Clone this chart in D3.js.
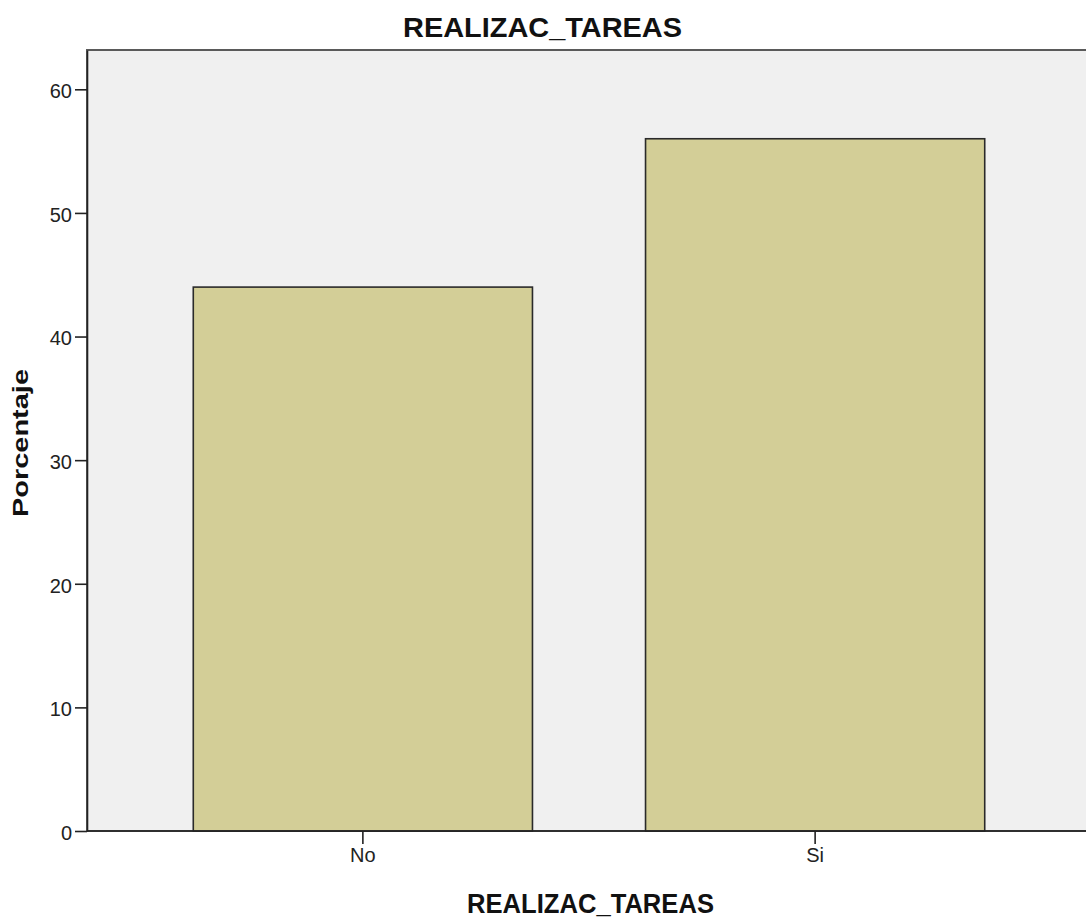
<!DOCTYPE html>
<html>
<head>
<meta charset="utf-8">
<script src="https://cdn.jsdelivr.net/npm/d3@7"></script>
<style>
  html, body { margin: 0; padding: 0; background: #ffffff; }
  svg { display: block; font-family: "Liberation Sans", Arial, sans-serif; }
</style>
</head>
<body>
<svg id="chart" width="1086" height="918"></svg>
<script>
// ---- data ----
const categories = ["No", "Si"];
const percentages = [44, 56];
const yTicks = [0, 10, 20, 30, 40, 50, 60];
const chartTitle = "REALIZAC_TAREAS";
const xTitle = "REALIZAC_TAREAS";
const yTitle = "Porcentaje";

const svg = d3.select("#chart");
const W = 1086, H = 918;
const plot = { left: 87, right: 1087, top: 50, bottom: 831 };

const y = d3.scaleLinear().domain([0, 63.18]).range([plot.bottom, plot.top]);
const x = d3.scaleBand().domain(categories).range([87, 1091])
  .paddingInner(0.25).paddingOuter(0.235).align(0.5);

// plot background
svg.append("rect")
  .attr("x", plot.left).attr("y", plot.top)
  .attr("width", plot.right - plot.left).attr("height", plot.bottom - plot.top)
  .attr("fill", "#f0f0f0")
  .attr("stroke", "#5a5a5a").attr("stroke-width", 2);

// bars
svg.selectAll("rect.bar").data(categories).enter().append("rect")
  .attr("class", "bar")
  .attr("x", d => x(d))
  .attr("y", (d, i) => y(percentages[i]))
  .attr("width", x.bandwidth())
  .attr("height", (d, i) => y(0) - y(percentages[i]))
  .attr("fill", "#d3ce97")
  .attr("stroke", "#2a2a2a").attr("stroke-width", 1.6);

// y axis
const yAxis = d3.axisLeft(y).tickValues(yTicks).tickSizeInner(12).tickSizeOuter(0)
  .tickPadding(3).tickFormat(d3.format("d"));
const gy = svg.append("g").attr("transform", `translate(${plot.left},0)`).call(yAxis);
gy.select(".domain").attr("stroke", "#222").attr("stroke-width", 1.6);
gy.selectAll(".tick line").attr("stroke", "#222").attr("stroke-width", 1.6);
gy.selectAll(".tick text")
  .attr("font-size", 20).attr("fill", "#222")
  .attr("font-family", "Liberation Sans, Arial, sans-serif")
  .attr("dy", "0.42em");

// x axis
const xAxis = d3.axisBottom(x).tickSizeInner(13).tickSizeOuter(0).tickPadding(4);
const gx = svg.append("g").attr("transform", `translate(0,${plot.bottom})`).call(xAxis);
gx.select(".domain").attr("stroke", "#222").attr("stroke-width", 1.6)
  .attr("d", `M${plot.left},0H${W}`);
gx.selectAll(".tick line").attr("stroke", "#222").attr("stroke-width", 1.6);
gx.selectAll(".tick text")
  .attr("font-size", 20).attr("fill", "#222")
  .attr("font-family", "Liberation Sans, Arial, sans-serif");

// titles
svg.append("text")
  .attr("x", W / 2 - 0.5).attr("y", 37)
  .attr("text-anchor", "middle")
  .attr("font-size", 28).attr("font-weight", "bold").attr("fill", "#111")
  .attr("textLength", 279).attr("lengthAdjust", "spacingAndGlyphs")
  .text(chartTitle);

svg.append("text")
  .attr("x", (plot.left + W) / 2 + 4).attr("y", 913)
  .attr("text-anchor", "middle")
  .attr("font-size", 27).attr("font-weight", "bold").attr("fill", "#111")
  .attr("textLength", 247).attr("lengthAdjust", "spacingAndGlyphs")
  .text(xTitle);

svg.append("text")
  .attr("transform", `translate(28,${443}) rotate(-90)`)
  .attr("text-anchor", "middle")
  .attr("font-size", 22).attr("font-weight", "bold").attr("fill", "#111")
  .attr("textLength", 148).attr("lengthAdjust", "spacingAndGlyphs")
  .text(yTitle);
</script>
</body>
</html>
